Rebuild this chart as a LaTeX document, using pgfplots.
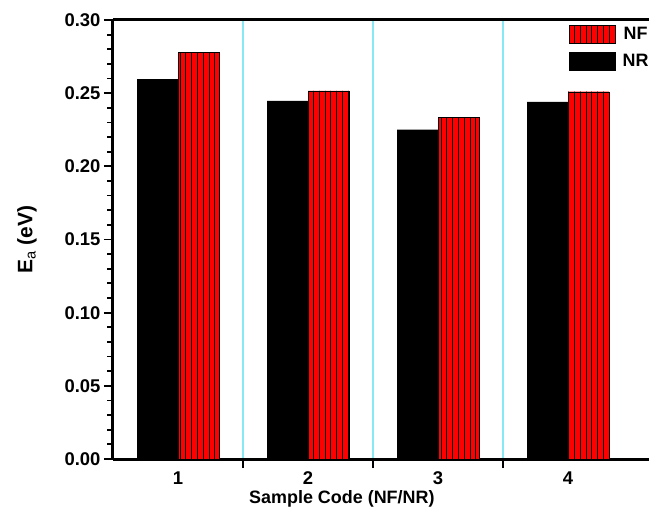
\documentclass[border=0pt]{standalone}
\usepackage{fontspec}
\setmainfont{Liberation Sans}
\usepackage{pgfplots}
\pgfplotsset{compat=1.18}
\usetikzlibrary{patterns.meta}
\definecolor{gridcyan}{RGB}{135,233,243}
\begin{document}
\begin{tikzpicture}
\useasboundingbox (-113bp,-48bp) rectangle (536bp,459bp);
\begin{axis}[
  scale only axis, width=536bp, height=439bp,
  xmin=0.5, xmax=4.623, ymin=0, ymax=0.30,
  axis x line*=box, axis y line*=left,
  xtick pos=bottom, ytick pos=left,
  axis line style={line width=3bp},
  tick align=outside,
  xtick={1.5,2.5,3.5}, xticklabels={},
  xmajorgrids, major grid style={gridcyan, line width=1.1bp},
  extra x ticks={1,2,3,4}, extra x tick labels={1,2,3,4},
  extra x tick style={major tick length=0pt, grid=none},
  ytick={0,0.05,...,0.30},
  minor y tick num=4,
  major tick length=9bp, minor tick length=5.5bp,
  every tick/.style={black, line width=1.8bp},
  /pgf/number format/assume math mode=true,
  yticklabel style={/pgf/number format/.cd, fixed, fixed zerofill, precision=2},
  ticklabel style={font=\fontsize{18.5}{20}\selectfont\bfseries},
  xticklabel style={yshift=-9bp},
  every axis x label/.style={at={(axis description cs:0.427,0)}, yshift=-40bp, anchor=center, font=\fontsize{18}{20}\selectfont\bfseries},
  every axis y label/.style={at={(axis description cs:0,0.5)}, xshift=-86bp, rotate=90, anchor=center, font=\fontsize{21}{23}\selectfont\bfseries},
  xlabel={Sample Code (NF/NR)},
  ylabel={E\textsubscript{\mdseries a} (eV)},
  legend style={at={(axis description cs:0.851,0.9886)}, anchor=north west, draw=none, fill=none, inner sep=0pt, row sep=8bp, column sep=7bp, font=\fontsize{18}{20}\selectfont\bfseries, nodes={inner sep=0pt}},
  legend image code/.code={\draw[#1] (0bp,-9bp) rectangle (46bp,9bp);},
]
\addplot[ybar, bar width=0.315, bar shift=0.1575, fill=red, draw=black, line width=0.4bp,
  postaction={pattern={Lines[angle=90,distance=5.8bp,line width=0.35bp]}, pattern color=black}]
  coordinates {(1,0.278) (2,0.2515) (3,0.2335) (4,0.251)};
\addlegendentry{NF}
\addplot[ybar, bar width=0.315, bar shift=-0.1575, fill=black, draw=black, line width=0.4bp]
  coordinates {(1,0.2595) (2,0.2447) (3,0.2250) (4,0.2440)};
\addlegendentry{NR}
\end{axis}
\end{tikzpicture}
\end{document}
